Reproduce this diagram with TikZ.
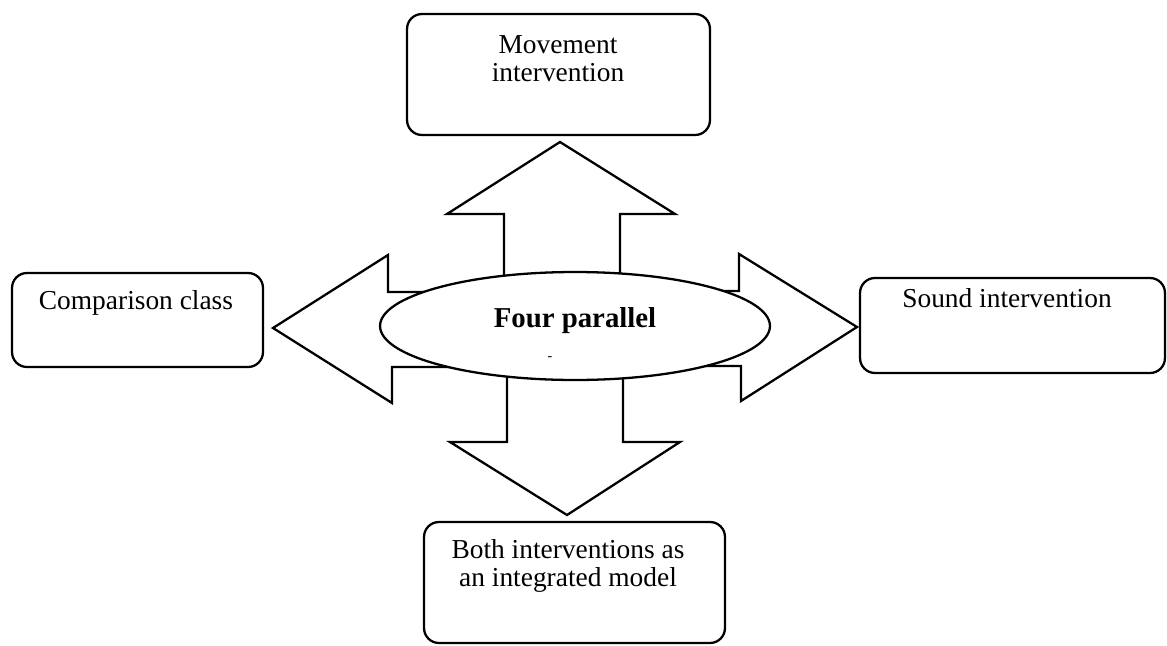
\documentclass[tikz,border=0pt]{standalone}
\usepackage{fontspec}
\setmainfont{Liberation Serif}
\usetikzlibrary{shapes.geometric}
\begin{document}
\begin{tikzpicture}[x=0.02cm, y=-0.02cm,
  outline/.style={draw=black, line width=1.3pt, line join=miter},
  box/.style={outline, rounded corners=8.5pt, fill=white, inner sep=0pt},
  lbl/.style={inner sep=0pt, font=\fontsize{15.6}{16.2}\selectfont, align=center},
  hub/.style={outline, fill=white, ellipse, inner sep=0pt},
]
\useasboundingbox (0,0) rectangle (1167,646);

% four-way block arrow behind the central ellipse
\draw[outline, fill=white]
  (560,142) -- (675,214) -- (620,214) -- (620,291) -- (739,291) -- (739,254)
  -- (857,327) -- (741,401) -- (741,366) -- (623,366) -- (623,442) -- (680,442)
  -- (567,515) -- (450,442) -- (507,442) -- (507,367) -- (392,367) -- (392,403)
  -- (273,328) -- (388,255) -- (388,292) -- (504,292) -- (504,214) -- (447,214)
  -- cycle;

% central ellipse
\node[hub, minimum width=7.8cm, minimum height=2.16cm] (hub) at (575,326) {};
\node[inner sep=0pt, anchor=base, font=\fontsize{16.4}{18}\selectfont\bfseries] (hubtext) at (575,327) {Four parallel};
\node[inner sep=0pt, anchor=base, font=\fontsize{8}{8}\selectfont] (mark) at (550,360) {-};

% outer boxes
\node[box, minimum width=6.06cm, minimum height=2.42cm] (move) at (558.5,74.5) {};
\node[lbl, anchor=north] (movetext) at (558,35) {Movement\\intervention};

\node[box, minimum width=5.02cm, minimum height=1.88cm] (comp) at (137.5,320) {};
\node[lbl, anchor=base] (comptext) at (136,309) {Comparison class};

\node[box, minimum width=6.10cm, minimum height=1.90cm] (sound) at (1012.5,325.5) {};
\node[lbl, anchor=base] (soundtext) at (1007,307) {Sound intervention};

\node[box, minimum width=6.02cm, minimum height=2.42cm] (both) at (574.5,582.5) {};
\node[lbl, anchor=north] (bothtext) at (568,539) {Both interventions as\\an integrated model};
\end{tikzpicture}
\end{document}
